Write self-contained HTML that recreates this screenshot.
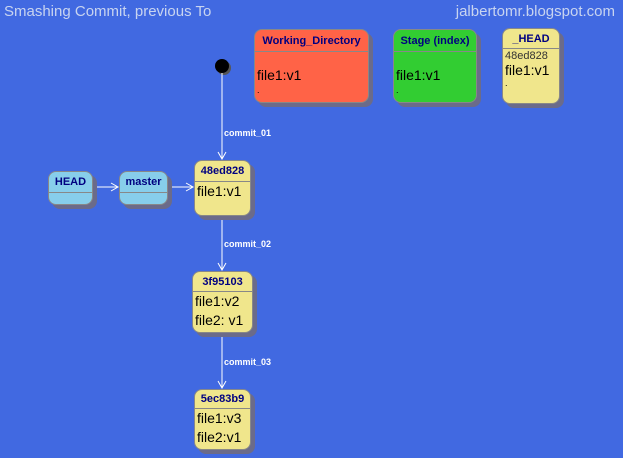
<!DOCTYPE html>
<html><head><meta charset="utf-8"><style>
body{margin:0;width:623px;height:458px;background:#4169E1;overflow:hidden;font-family:"Liberation Sans",sans-serif;position:relative}
.b{position:absolute;border:1.5px solid #888;border-radius:8px;box-shadow:4px 4px 0 #6b6b8a;box-sizing:border-box;overflow:hidden}
.h{color:#000080;font-weight:bold;font-size:11px;text-align:center;border-bottom:1px solid #888;box-sizing:border-box}
.c{font-size:14px;color:#000;padding-left:2px;line-height:19px}
.y{background:#F0E68C}.t{position:absolute;color:#fff;font-size:9px;font-weight:bold}
</style></head><body>
<div style="position:absolute;left:4px;top:3px;color:#c8d4f0;font-size:15px">Smashing Commit, previous To</div>
<div style="position:absolute;right:8px;top:3px;color:#c8d4f0;font-size:15px">jalbertomr.blogspot.com</div>
<svg width="623" height="458" style="position:absolute;left:0;top:0">
<circle cx="224" cy="68" r="7" fill="#555"/><circle cx="222" cy="66" r="7" fill="#000"/>
<g stroke="#fff" fill="none" stroke-width="1">
<line x1="222" y1="73" x2="222" y2="159"/><polyline points="218,152 222,159 226,152"/>
<line x1="222" y1="216" x2="222" y2="270"/><polyline points="218,263 222,270 226,263"/>
<line x1="222" y1="333" x2="222" y2="388"/><polyline points="218,381 222,388 226,381"/>
<line x1="93" y1="187" x2="118" y2="187"/><polyline points="111,183 118,187 111,191"/>
<line x1="168" y1="187" x2="193" y2="187"/><polyline points="186,183 193,187 186,191"/>
</g></svg>
<div class="t" style="left:224px;top:128px">commit_01</div>
<div class="t" style="left:224px;top:239px">commit_02</div>
<div class="t" style="left:224px;top:357px">commit_03</div>
<div class="b" style="left:254px;top:29px;width:115px;height:74px;background:#FF6347"><div class="h" style="height:22px;line-height:22px">Working_Directory</div><div class="c" style="padding-top:14px">file1:v1</div><div class="c" style="font-size:9px;line-height:10px">.</div></div>
<div class="b" style="left:393px;top:29px;width:84px;height:74px;background:#32CD32"><div class="h" style="height:22px;line-height:22px">Stage (index)</div><div class="c" style="padding-top:14px">file1:v1</div><div class="c" style="font-size:9px;line-height:10px">.</div></div>
<div class="b y" style="left:502px;top:28px;width:58px;height:76px"><div class="h" style="height:20px;line-height:20px">_HEAD</div><div class="c" style="font-size:11px;line-height:14px;color:#333">48ed828</div><div class="c" style="line-height:15px">file1:v1</div><div class="c" style="font-size:9px;line-height:10px">.</div></div>
<div class="b" style="left:48px;top:171px;width:45px;height:34px;background:#87CEEB"><div class="h" style="height:21px;line-height:21px">HEAD</div></div>
<div class="b" style="left:119px;top:171px;width:49px;height:34px;background:#87CEEB"><div class="h" style="height:21px;line-height:21px">master</div></div>
<div class="b y" style="left:194px;top:160px;width:57px;height:56px"><div class="h" style="height:21px;line-height:21px">48ed828</div><div class="c">file1:v1</div></div>
<div class="b y" style="left:192px;top:271px;width:61px;height:62px"><div class="h" style="height:20px;line-height:20px">3f95103</div><div class="c">file1:v2<br>file2: v1</div></div>
<div class="b y" style="left:194px;top:389px;width:57px;height:61px"><div class="h" style="height:19px;line-height:19px">5ec83b9</div><div class="c">file1:v3<br>file2:v1</div></div>
</body></html>
